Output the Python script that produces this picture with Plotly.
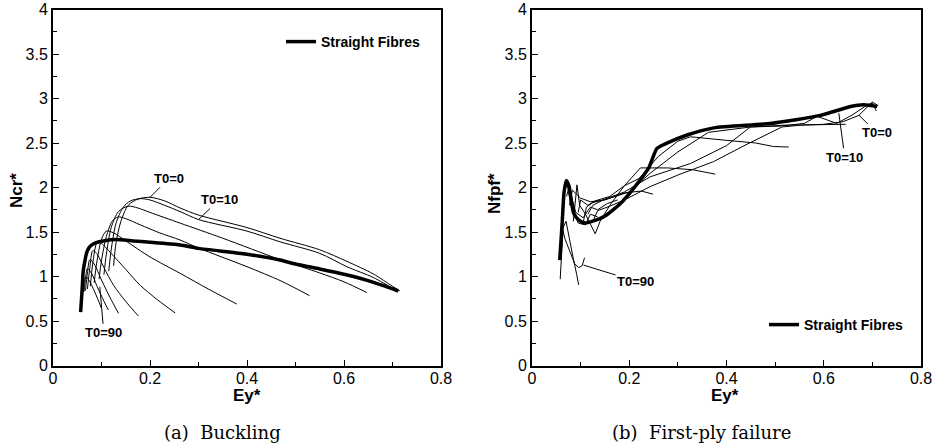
import plotly.graph_objects as go

W, H = 939, 448

# ---------------- Panel (a) Buckling ----------------
a_straight_x = [0.057, 0.060, 0.0625, 0.066, 0.069, 0.075, 0.083, 0.095, 0.104, 0.13, 0.165, 0.20, 0.262, 0.30, 0.40, 0.468, 0.50, 0.55, 0.60, 0.646, 0.68, 0.712]
a_straight_y = [0.60, 0.85, 1.07, 1.18, 1.26, 1.33, 1.365, 1.39, 1.40, 1.415, 1.40, 1.385, 1.354, 1.316, 1.25, 1.185, 1.14, 1.085, 1.025, 0.96, 0.90, 0.837]

a_t0_x = [0.125, 0.13, 0.14, 0.155, 0.175, 0.20, 0.23, 0.262, 0.30, 0.40, 0.468, 0.55, 0.606, 0.66, 0.70, 0.715]
a_t0_y = [1.12, 1.38, 1.62, 1.80, 1.87, 1.89, 1.85, 1.77, 1.69, 1.55, 1.43, 1.30, 1.17, 1.03, 0.89, 0.84]
a_t10_x = [0.115, 0.12, 0.13, 0.145, 0.16, 0.18, 0.20, 0.23, 0.262, 0.30, 0.40, 0.468, 0.55, 0.606, 0.66, 0.70, 0.712]
a_t10_y = [1.06, 1.30, 1.60, 1.78, 1.85, 1.875, 1.86, 1.80, 1.73, 1.64, 1.51, 1.39, 1.26, 1.11, 0.99, 0.87, 0.84]
a_t20_x = [0.105, 0.11, 0.12, 0.135, 0.155, 0.175, 0.20, 0.262, 0.35, 0.468, 0.55, 0.60, 0.647]
a_t20_y = [1.02, 1.25, 1.55, 1.73, 1.79, 1.77, 1.72, 1.60, 1.43, 1.19, 1.04, 0.94, 0.82]
a_t30_x = [0.095, 0.10, 0.11, 0.122, 0.134, 0.15, 0.18, 0.22, 0.262, 0.30, 0.40, 0.47, 0.529]
a_t30_y = [0.97, 1.18, 1.45, 1.62, 1.67, 1.65, 1.58, 1.49, 1.41, 1.32, 1.11, 0.95, 0.785]
a_t40_x = [0.085, 0.09, 0.10, 0.11, 0.125, 0.15, 0.20, 0.262, 0.32, 0.379]
a_t40_y = [0.93, 1.15, 1.42, 1.51, 1.49, 1.40, 1.22, 1.036, 0.86, 0.69]
a_t50_x = [0.077, 0.082, 0.091, 0.10, 0.12, 0.15, 0.18, 0.215, 0.252]
a_t50_y = [0.89, 1.15, 1.38, 1.37, 1.26, 1.08, 0.90, 0.74, 0.59]
a_t60_x = [0.071, 0.076, 0.082, 0.09, 0.105, 0.125, 0.15, 0.176]
a_t60_y = [0.86, 1.10, 1.29, 1.26, 1.10, 0.90, 0.72, 0.556]
a_t70_x = [0.067, 0.071, 0.076, 0.085, 0.10, 0.118, 0.135]
a_t70_y = [0.84, 1.04, 1.19, 1.14, 0.96, 0.76, 0.587]
a_t80_x = [0.064, 0.067, 0.071, 0.08, 0.09, 0.10, 0.114]
a_t80_y = [0.83, 0.97, 1.09, 1.03, 0.90, 0.78, 0.624]
a_t90_x = [0.062, 0.064, 0.067, 0.075, 0.085, 0.092, 0.100]
a_t90_y = [0.82, 0.92, 1.00, 0.95, 0.84, 0.75, 0.643]

# ---------------- Panel (b) First-ply failure ----------------
b_straight_x = [0.057, 0.062, 0.066, 0.0706, 0.076, 0.0857, 0.097, 0.11, 0.147, 0.182, 0.209, 0.24, 0.257, 0.274, 0.319, 0.374, 0.49, 0.593, 0.655, 0.682, 0.71]
b_straight_y = [1.185, 1.60, 1.95, 2.08, 2.02, 1.71, 1.63, 1.60, 1.67, 1.82, 1.99, 2.22, 2.44, 2.49, 2.59, 2.67, 2.72, 2.81, 2.91, 2.93, 2.91]

b_t0_x = [0.125, 0.135, 0.16, 0.19, 0.243, 0.30, 0.373, 0.44, 0.514, 0.552, 0.60, 0.64, 0.672, 0.69, 0.70, 0.712]
b_t0_y = [1.62, 1.74, 1.79, 1.86, 2.01, 2.14, 2.29, 2.48, 2.68, 2.70, 2.71, 2.74, 2.81, 2.90, 2.96, 2.92]
b_t10_x = [0.115, 0.125, 0.15, 0.19, 0.243, 0.326, 0.40, 0.449, 0.511, 0.56, 0.586, 0.627, 0.66, 0.69, 0.70, 0.708]
b_t10_y = [1.70, 1.80, 1.87, 1.95, 2.12, 2.27, 2.47, 2.68, 2.69, 2.72, 2.80, 2.72, 2.82, 2.93, 2.95, 2.86]
b_t20_x = [0.105, 0.112, 0.125, 0.16, 0.20, 0.243, 0.30, 0.363, 0.45, 0.52, 0.645]
b_t20_y = [1.60, 1.78, 1.83, 1.88, 1.95, 2.16, 2.40, 2.62, 2.68, 2.70, 2.71]
b_t30_x = [0.095, 0.10, 0.115, 0.13, 0.16, 0.19, 0.22, 0.26, 0.30, 0.326, 0.40, 0.46, 0.497, 0.528]
b_t30_y = [1.72, 1.86, 1.80, 1.85, 1.90, 2.02, 2.10, 2.35, 2.52, 2.57, 2.53, 2.50, 2.46, 2.455]
b_t40_x = [0.085, 0.0925, 0.098, 0.11, 0.13, 0.14, 0.16, 0.19, 0.223, 0.278, 0.33, 0.377]
b_t40_y = [1.62, 2.03, 1.80, 1.70, 1.48, 1.62, 1.80, 2.02, 2.22, 2.22, 2.20, 2.15]
b_t50_x = [0.077, 0.083, 0.10, 0.12, 0.15, 0.19, 0.225, 0.249]
b_t50_y = [1.80, 1.97, 1.88, 1.84, 1.86, 1.94, 1.96, 1.925]
b_t60_x = [0.071, 0.076, 0.09, 0.105, 0.12, 0.135, 0.155, 0.176]
b_t60_y = [1.90, 2.00, 1.72, 1.66, 1.78, 1.75, 1.82, 1.86]
b_t70_x = [0.067, 0.072, 0.08, 0.095, 0.11, 0.12, 0.135]
b_t70_y = [1.95, 2.05, 1.80, 1.60, 1.58, 1.70, 1.67]
b_t80_x = [0.058, 0.064, 0.07, 0.078, 0.085, 0.092, 0.096]
b_t80_y = [0.97, 1.55, 1.62, 1.38, 1.20, 1.02, 0.905]
b_t90_x = [0.062, 0.068, 0.078, 0.088, 0.096, 0.103, 0.108]
b_t90_y = [1.55, 1.42, 1.28, 1.14, 1.10, 1.12, 1.21]

x_ticks = [0, 0.2, 0.4, 0.6, 0.8]
x_tick_labels = ["0", "0.2", "0.4", "0.6", "0.8"]
y_ticks = [0, 0.5, 1, 1.5, 2, 2.5, 3, 3.5, 4]
y_tick_labels = ["0", "0.5", "1", "1.5", "2", "2.5", "3", "3.5", "4"]

a_curves = [(a_t0_x, a_t0_y), (a_t10_x, a_t10_y), (a_t20_x, a_t20_y), (a_t30_x, a_t30_y),
            (a_t40_x, a_t40_y), (a_t50_x, a_t50_y), (a_t60_x, a_t60_y), (a_t70_x, a_t70_y),
            (a_t80_x, a_t80_y), (a_t90_x, a_t90_y)]
b_curves = [(b_t0_x, b_t0_y), (b_t10_x, b_t10_y), (b_t20_x, b_t20_y), (b_t30_x, b_t30_y),
            (b_t40_x, b_t40_y), (b_t50_x, b_t50_y), (b_t60_x, b_t60_y), (b_t70_x, b_t70_y),
            (b_t80_x, b_t80_y), (b_t90_x, b_t90_y)]
t0_labels = ["T0=0", "T0=10", "T0=20", "T0=30", "T0=40", "T0=50", "T0=60", "T0=70", "T0=80", "T0=90"]

fig = go.Figure()
for (xs, ys), lab in zip(a_curves, t0_labels):
    fig.add_trace(go.Scatter(x=xs, y=ys, mode="lines", name=lab, showlegend=False,
                             line=dict(color="black", width=1, shape="spline", smoothing=0.8),
                             xaxis="x", yaxis="y"))
fig.add_trace(go.Scatter(x=a_straight_x, y=a_straight_y, mode="lines", name="Straight Fibres",
                         line=dict(color="black", width=3.5, shape="spline", smoothing=0.6),
                         xaxis="x", yaxis="y", legend="legend"))
for (xs, ys), lab in zip(b_curves, t0_labels):
    fig.add_trace(go.Scatter(x=xs, y=ys, mode="lines", name=lab, showlegend=False,
                             line=dict(color="black", width=1),
                             xaxis="x2", yaxis="y2"))
fig.add_trace(go.Scatter(x=b_straight_x, y=b_straight_y, mode="lines", name="Straight Fibres",
                         line=dict(color="black", width=3.5, shape="spline", smoothing=0.6),
                         xaxis="x2", yaxis="y2", legend="legend2"))

ydom = [1 - 365.5 / H, 1 - 9.5 / H]
tickfont = dict(family="Liberation Sans, Arial, sans-serif", size=16, color="black")
titlefont = dict(family="Liberation Sans, Arial, sans-serif", size=17, color="black", weight="bold")

def xax(domain, anchor):
    return dict(domain=domain, anchor=anchor, range=[0, 0.8], tickmode="array",
                tickvals=x_ticks, ticktext=x_tick_labels, ticks="inside", ticklen=6,
                tickwidth=1, tickcolor="black", showline=True, linewidth=2, linecolor="black",
                mirror=True, showgrid=False, zeroline=False, tickfont=tickfont,
                ticklabelstandoff=-3,
                minor=dict(tickvals=[0.1, 0.3, 0.5, 0.7], ticks="inside", ticklen=4,
                           tickcolor="black", tickwidth=1, showgrid=False),
                automargin=False)

def yax(domain, anchor):
    return dict(domain=domain, anchor=anchor, range=[0, 4], tickmode="array",
                tickvals=y_ticks, ticktext=y_tick_labels, ticks="inside", ticklen=6,
                tickwidth=1, tickcolor="black", showline=True, linewidth=2, linecolor="black",
                mirror=True, showgrid=False, zeroline=False, tickfont=tickfont,
                minor=dict(tickvals=[0.25, 0.75, 1.25, 1.75, 2.25, 2.75, 3.25, 3.75],
                           ticks="inside", ticklen=4, tickcolor="black", tickwidth=1,
                           showgrid=False),
                automargin=False)

lab_font = dict(family="Liberation Sans, Arial, sans-serif", size=13, color="black", weight="bold")

def leader(text, x, y, ax, ay, xref, yref):
    return dict(text=text, x=x, y=y, xref=xref, yref=yref, ax=ax, ay=ay, showarrow=True,
                arrowhead=0, arrowwidth=1, arrowcolor="black", font=lab_font)

def title(text, px, py, angle=0):
    return dict(text=text, x=px / W, y=1 - py / H, xref="paper", yref="paper",
                xanchor="center", yanchor="middle", showarrow=False, textangle=angle,
                font=titlefont)

cap_font = dict(family="DejaVu Serif, serif", size=18, color="black")
annotations = [
    leader("T0=0", 0.20, 1.89, 19, -19, "x", "y"),
    leader("T0=10", 0.30, 1.64, 21, -20, "x", "y"),
    leader("T0=90", 0.0965, 0.885, 4, 46, "x", "y"),
    leader("T0=0", 0.672, 2.815, 18, 18, "x2", "y2"),
    leader("T0=10", 0.631, 2.834, 6, 44, "x2", "y2"),
    leader("T0=90", 0.106, 1.128, 52, 16, "x2", "y2"),
    title("Ey*", 247, 395),
    title("Ey*", 725, 395),
    title("Ncr*", 16, 191, -90),
    title("Nfpf*", 494, 194, -90),
    dict(text="(a)  Buckling", x=222 / W, y=1 - 432 / H, xref="paper", yref="paper",
         xanchor="center", yanchor="middle", showarrow=False, font=cap_font),
    dict(text="(b)  First-ply failure", x=701 / W, y=1 - 432 / H, xref="paper", yref="paper",
         xanchor="center", yanchor="middle", showarrow=False, font=cap_font),
]

leg_font = dict(family="Liberation Sans, Arial, sans-serif", size=14, color="black", weight="bold")

fig.update_layout(
    width=W, height=H, autosize=False,
    margin=dict(l=0, r=0, t=0, b=0),
    paper_bgcolor="white", plot_bgcolor="white",
    xaxis=xax([53 / W, 441 / W], "y"),
    yaxis=yax(ydom, "x"),
    xaxis2=xax([532 / W, 921 / W], "y2"),
    yaxis2=yax(ydom, "x2"),
    legend=dict(x=281 / W, y=1 - 42 / H, xanchor="left", yanchor="middle", font=leg_font,
                bgcolor="rgba(0,0,0,0)", borderwidth=0),
    legend2=dict(x=764 / W, y=1 - 325 / H, xanchor="left", yanchor="middle", font=leg_font,
                 bgcolor="rgba(0,0,0,0)", borderwidth=0),
    annotations=annotations,
    showlegend=True,
)

fig.write_html("out.html")
